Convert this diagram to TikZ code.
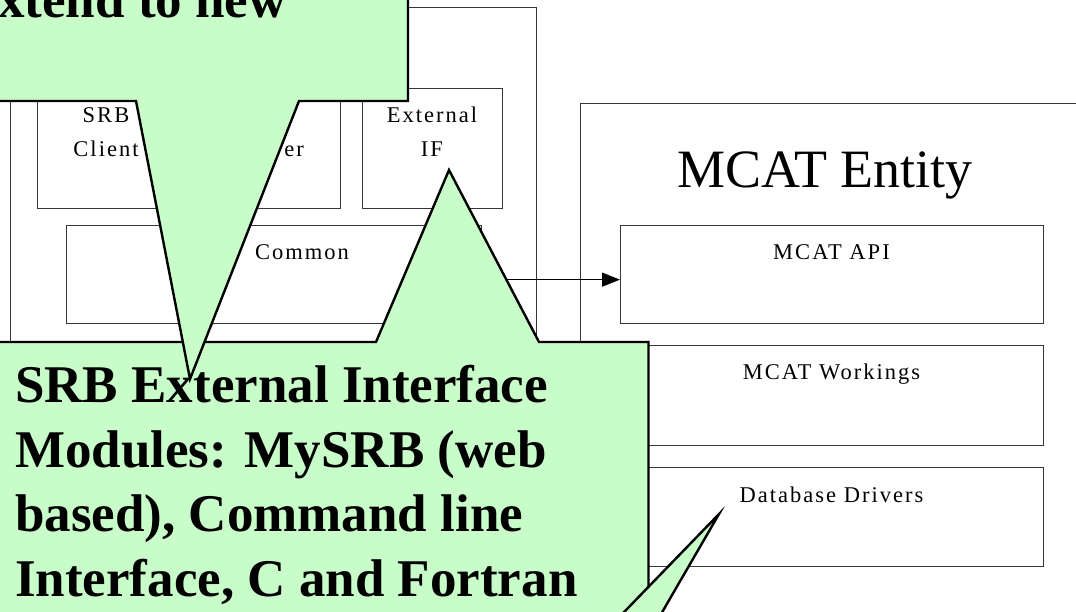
\documentclass[tikz,border=0pt]{standalone}
\usepackage{fontspec}
\setmainfont{Liberation Serif}
\newfontfamily\lblfont[LetterSpace=9]{Liberation Serif}
\usetikzlibrary{arrows.meta}
\definecolor{callgreen}{RGB}{200,252,200}
\definecolor{boxline}{RGB}{55,55,55}
\begin{document}
\begin{tikzpicture}[x=1pt,y=-1pt,
  box/.style={draw=boxline, line width=1.3pt, fill=white, inner sep=0pt, anchor=north west},
  lbl/.style={font=\lblfont\fontsize{22.5}{27}\selectfont, inner sep=0pt, anchor=base},
  titletext/.style={font=\fontsize{54}{60}\selectfont, inner sep=0pt, anchor=base},
  callout/.style={fill=callgreen, draw=black, line width=2.4pt, line join=miter},
  calltext/.style={font=\bfseries\fontsize{53}{64}\selectfont, inner sep=0pt},
  conn/.style={draw=black, line width=1.3pt, -{Triangle[length=18pt,width=14pt]}}]

\useasboundingbox (0,0) rectangle (1076,611);
\clip (0,0) rectangle (1076,611);

% SRB side
\node[box, minimum width=526, minimum height=600] (srbouter) at (10,7) {};
\node[box, minimum width=303, minimum height=120] (client) at (37,88) {};
\node[box, minimum width=140, minimum height=120] (extif) at (362,88) {};
\node[box, minimum width=415, minimum height=98] (common) at (66,225) {};

\node[lbl] (srbt) at (106,122) {SRB};
\node[lbl] (clientt) at (106,156) {Client};
\node[lbl, anchor=base east] (servert) at (304,156) {Server};
\node[lbl] (extt) at (432,122) {External};
\node[lbl] (ift) at (432,156) {IF};
\node[lbl] (commont) at (302,259) {Common};

% MCAT side
\node[box, minimum width=600, minimum height=600] (mcatouter) at (580,103) {};
\node[box, minimum width=423, minimum height=98] (api) at (620,225) {};
\node[box, minimum width=423, minimum height=100] (work) at (620,345) {};
\node[box, minimum width=423, minimum height=99] (db) at (620,467) {};

\node[titletext] (mcatt) at (825,187) {MCAT Entity};
\node[lbl] (apit) at (831.5,259) {MCAT API};
\node[lbl] (workt) at (831.5,379) {MCAT Workings};
\node[lbl] (dbt) at (831.5,502) {Database Drivers};

\draw[conn] ([yshift=-5pt]common.east) -- ([yshift=-5pt]api.west);

% callout 2 (bottom)
\path[callout] (-60,342) -- (376,342) -- (449,170) -- (539,342) -- (648.5,342) -- (648.5,700) -- (-60,700) -- cycle;
\node[calltext, anchor=base west] (c2a) at (15,402) {SRB External Interface};
\node[calltext, anchor=base west] (c2b) at (15,467) {Modules: MySRB (web};
\node[calltext, anchor=base west] (c2c) at (15,531) {based), Command line};
\node[calltext, anchor=base west] (c2d) at (15,596) {Interface, C and Fortran};

% callout 1 (top)
\path[callout] (-60,-60) -- (408,-60) -- (408,101) -- (299,101) -- (190,379) -- (136,101) -- (-60,101) -- cycle;
\node[calltext, anchor=base east] (c1) at (287,17) {extend to new};

% callout 3 tail
\coordinate (t3a) at (597,640);
\coordinate (t3tip) at (719,514);
\coordinate (t3b) at (646,640);
\fill[callgreen] (t3a) -- (t3tip) -- (t3b) -- cycle;
\draw[black, line width=2.4pt, line join=miter] (t3a) -- (t3tip) -- (t3b);
\end{tikzpicture}
\end{document}
